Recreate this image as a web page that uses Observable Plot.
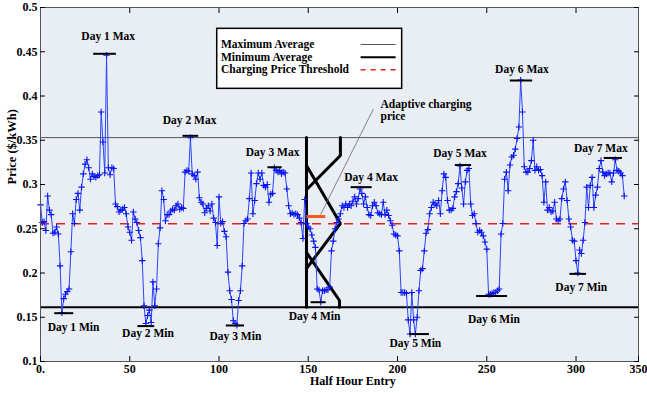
<!DOCTYPE html>
<html><head><meta charset="utf-8">
<script src="https://cdn.jsdelivr.net/npm/d3@7"></script>
<script src="https://cdn.jsdelivr.net/npm/@observablehq/plot@0.6"></script>
<style>body{margin:0;background:#fff;}</style>
</head><body><div id="chart"></div>
<script>
// Price per half-hour entry ($/kWh)
const price = [
0.277,0.257,0.258,0.248,0.287,0.271,0.266,0.245,0.246,0.252,
0.244,0.208,0.155,0.171,0.176,0.179,0.182,0.224,0.267,0.256,
0.283,0.290,0.271,0.297,0.312,0.323,0.328,0.319,0.306,0.312,
0.309,0.308,0.310,0.311,0.382,0.348,0.313,0.446,0.319,0.311,
0.319,0.318,0.278,0.275,0.269,0.271,0.272,0.274,0.267,0.252,
0.246,0.237,0.269,0.261,0.257,0.248,0.240,0.214,0.163,0.143,
0.152,0.158,0.144,0.190,0.163,0.182,0.233,0.251,0.293,0.283,
0.259,0.266,0.266,0.270,0.272,0.271,0.276,0.278,0.272,0.274,
0.273,0.314,0.316,0.315,0.353,0.312,0.310,0.306,0.314,0.285,
0.280,0.278,0.268,0.273,0.276,0.270,0.278,0.262,0.257,0.231,
0.286,0.256,0.258,0.247,0.241,0.201,0.180,0.170,0.146,0.143,
0.141,0.169,0.180,0.208,0.256,0.259,0.261,0.284,0.313,0.267,
0.282,0.301,0.313,0.306,0.313,0.299,0.297,0.300,0.280,0.289,
0.290,0.319,0.316,0.314,0.316,0.312,0.314,0.313,0.295,0.276,
0.267,0.268,0.266,0.267,0.266,0.262,0.257,0.239,0.283,0.256,
0.252,0.250,0.243,0.236,0.229,0.182,0.181,0.167,0.180,0.180,
0.181,0.181,0.184,0.225,0.236,0.250,0.257,0.261,0.267,0.276,
0.274,0.278,0.274,0.278,0.276,0.281,0.286,0.278,0.284,0.295,
0.290,0.278,0.286,0.274,0.266,0.265,0.276,0.280,0.276,0.268,
0.267,0.266,0.280,0.266,0.271,0.265,0.259,0.254,0.244,0.243,
0.242,0.225,0.178,0.178,0.178,0.177,0.147,0.131,0.178,0.147,
0.131,0.150,0.180,0.203,0.205,0.225,0.245,0.249,0.267,0.274,
0.280,0.278,0.276,0.282,0.267,0.293,0.312,0.308,0.282,0.271,
0.271,0.273,0.286,0.292,0.301,0.321,0.296,0.278,0.303,0.316,
0.318,0.278,0.265,0.267,0.256,0.246,0.248,0.246,0.242,0.235,
0.227,0.176,0.176,0.177,0.178,0.178,0.180,0.182,0.244,0.256,
0.306,0.314,0.293,0.322,0.331,0.333,0.340,0.352,0.365,0.418,
0.382,0.320,0.314,0.314,0.318,0.327,0.350,0.316,0.320,0.316,
0.317,0.310,0.280,0.303,0.271,0.274,0.269,0.270,0.280,0.261,
0.259,0.261,0.284,0.295,0.303,0.282,0.261,0.252,0.237,0.236,
0.214,0.200,0.226,0.222,0.237,0.257,0.297,0.274,0.299,0.308,
0.274,0.288,0.297,0.318,0.327,0.314,0.310,0.312,0.313,0.313,
0.303,0.313,0.328,0.316,0.315,0.313,0.310,0.287
];
const entry = price.map((_, i) => i);

const maxAverage = 0.353;
const minAverage = 0.1614;
const chargeThreshold = 0.2556;

const xTicks = [0, 50, 100, 150, 200, 250, 300, 335];
const xTickLabels = ["0.", "50", "100", "150", "200", "250", "300", "350"];
const yTicks = [0.1, 0.15, 0.2, 0.25, 0.3, 0.35, 0.4, 0.45, 0.5];

// Daily max / min markers
const maxNames = ["Day 1 Max","Day 2 Max","Day 3 Max","Day 4 Max","Day 5 Max","Day 6 Max","Day 7 Max"];
const maxBarStart = [29.8, 79.8, 127.4, 174.0, 232.4, 263.2, 315.8];
const maxBarEnd   = [42.5, 88.6, 135.4, 185.8, 241.5, 275.7, 326.0];
const maxBarPrice = [0.4477, 0.355, 0.3195, 0.297, 0.322, 0.4175, 0.330];
const maxLabelX   = [37.9, 83.5, 130.0, 185.2, 235.0, 269.7, 313.9];
const maxLabelY   = [0.4672, 0.3723, 0.3362, 0.3082, 0.3347, 0.4296, 0.341];

const minNames = ["Day 1 Min","Day 2 Min","Day 3 Min","Day 4 Min","Day 5 Min","Day 6 Min","Day 7 Min"];
const minBarStart = [8.0, 54.6, 104.1, 151.6, 206.7, 244.3, 296.6];
const minBarEnd   = [18.6, 64.0, 114.3, 160.0, 217.9, 261.7, 305.9];
const minBarPrice = [0.1546, 0.140, 0.1407, 0.167, 0.131, 0.174, 0.199];
const minLabelX   = [18.5, 60.2, 109.2, 153.5, 210.0, 254.0, 302.9];
const minLabelY   = [0.1388, 0.1313, 0.1282, 0.1512, 0.120, 0.1482, 0.184];

// Adaptive charging sketch (entry, price, path id)
const adaptX    = [149, 149,   168, 168, 149,   149, 168, 149,   149, 167.5, 167.5];
const adaptY    = [0.3531, 0.1614,   0.3531, 0.3328, 0.294,   0.3215, 0.2559, 0.2051,   0.2232, 0.1689, 0.1614];
const adaptPath = ["v","v",   "a","a","a",   "b","b","b",   "c","c","c"];
const adaptivePrice = 0.2638, adaptiveStart = 149.2, adaptiveEnd = 159.8;
const noteText = "Adaptive charging\nprice";

// Legend
const legendNames = ["Maximum Average", "Minimum Average", "Charging Price Threshold"];
const legendRowY = [0.4582, 0.4438, 0.4296];

const series = entry.map((e, i) => ({entry: e, price: price[i]}));
const maxMarks = maxNames.map((n, i) => ({name: n, x1: maxBarStart[i], x2: maxBarEnd[i], y: maxBarPrice[i], lx: maxLabelX[i], ly: maxLabelY[i]}));
const minMarks = minNames.map((n, i) => ({name: n, x1: minBarStart[i], x2: minBarEnd[i], y: minBarPrice[i], lx: minLabelX[i], ly: minLabelY[i]}));
const adapt = adaptX.map((x, i) => ({x, y: adaptY[i], z: adaptPath[i]}));
const legendRows = legendNames.map((n, i) => ({name: n, y: legendRowY[i]}));

const labelFont = 11.5;

const chart = Plot.plot({
  width: 647,
  height: 393,
  marginLeft: 40,
  marginRight: 9,
  marginTop: 7,
  marginBottom: 32,
  style: {fontFamily: "'Liberation Serif', 'Times New Roman', serif", fontSize: "12px", fontWeight: "bold", background: "#fff", color: "#000"},
  x: {domain: [0, 335]},
  y: {domain: [0.1, 0.5]},
  marks: [
    Plot.frame({fill: "#e9edf4"}),
    Plot.ruleY([maxAverage], {stroke: "#555", strokeWidth: 1}),
    Plot.ruleY([minAverage], {stroke: "#000", strokeWidth: 2}),
    Plot.ruleY([chargeThreshold], {stroke: "#e8201c", strokeWidth: 1.6, strokeDasharray: "9,7"}),
    Plot.line(adapt, {x: "x", y: "y", z: "z", stroke: "#000", strokeWidth: 3, strokeLinejoin: "miter"}),
    Plot.ruleY([adaptivePrice], {x1: adaptiveStart, x2: adaptiveEnd, stroke: "#f05a1e", strokeWidth: 3}),
    Plot.link([0], {x1: () => 186.4, y1: () => 0.385, x2: () => 156.9, y2: () => 0.266, stroke: "#666", strokeWidth: 0.8}),
    Plot.text([noteText], {x: 190.5, y: 0.3844, text: d => d, textAnchor: "start", lineAnchor: "middle", fontSize: labelFont, lineHeight: 1.1}),
    Plot.line(series, {x: "entry", y: "price", stroke: "#2a45ff", strokeWidth: 1}),
    Plot.dot(series, {x: "entry", y: "price", symbol: "plus", r: 2.2, stroke: "#0a14f0", strokeWidth: 1.1}),
    Plot.ruleY(maxMarks, {y: "y", x1: "x1", x2: "x2", stroke: "#000", strokeWidth: 2}),
    Plot.ruleY(minMarks, {y: "y", x1: "x1", x2: "x2", stroke: "#000", strokeWidth: 2}),
    Plot.text(maxMarks, {x: "lx", y: "ly", text: "name", fontSize: labelFont, lineAnchor: "middle"}),
    Plot.text(minMarks, {x: "lx", y: "ly", text: "name", fontSize: labelFont, lineAnchor: "middle"}),
    // legend box
    Plot.rect([0], {x1: () => 99, x2: () => 202.6, y1: () => 0.4081, y2: () => 0.4759, fill: "#fff", stroke: "#000", strokeWidth: 1.5}),
    Plot.text(legendRows, {x: 101.1, y: "y", text: "name", textAnchor: "start", lineAnchor: "middle", fontSize: labelFont}),
    Plot.ruleY([legendRowY[0]], {x1: 179.6, x2: 199.2, stroke: "#555", strokeWidth: 1}),
    Plot.ruleY([legendRowY[1]], {x1: 179.6, x2: 199.2, stroke: "#000", strokeWidth: 2}),
    Plot.ruleY([legendRowY[2]], {x1: 179.6, x2: 199.2, stroke: "#e8201c", strokeWidth: 1.6, strokeDasharray: "5,5"}),
    Plot.frame({stroke: "#555", strokeWidth: 1}),
    Plot.axisX({anchor: "bottom", ticks: xTicks, tickSize: -5, tickPadding: 8, tickFormat: d => xTickLabels[xTicks.indexOf(d)], label: null, fontSize: 12}),
    Plot.axisX({anchor: "top", ticks: xTicks.slice(1, -1), tickSize: -5, tickFormat: () => "", label: null}),
    Plot.axisY({anchor: "left", ticks: yTicks, tickSize: -5, tickPadding: 8, tickFormat: d => String(+d.toFixed(2)), label: null, fontSize: 12}),
    Plot.axisY({anchor: "right", ticks: yTicks, tickSize: -5, tickFormat: () => "", label: null}),
    Plot.text(["Half Hour Entry"], {x: 175, frameAnchor: "bottom", dy: 20, text: d => d, fontSize: 12, lineAnchor: "middle"}),
    Plot.text(["Price ($/kWh)"], {frameAnchor: "left", dx: -28.5, rotate: -90, text: d => d, fontSize: 12.5, lineAnchor: "middle"})
  ]
});
document.getElementById("chart").append(chart);
</script>
</body></html>
